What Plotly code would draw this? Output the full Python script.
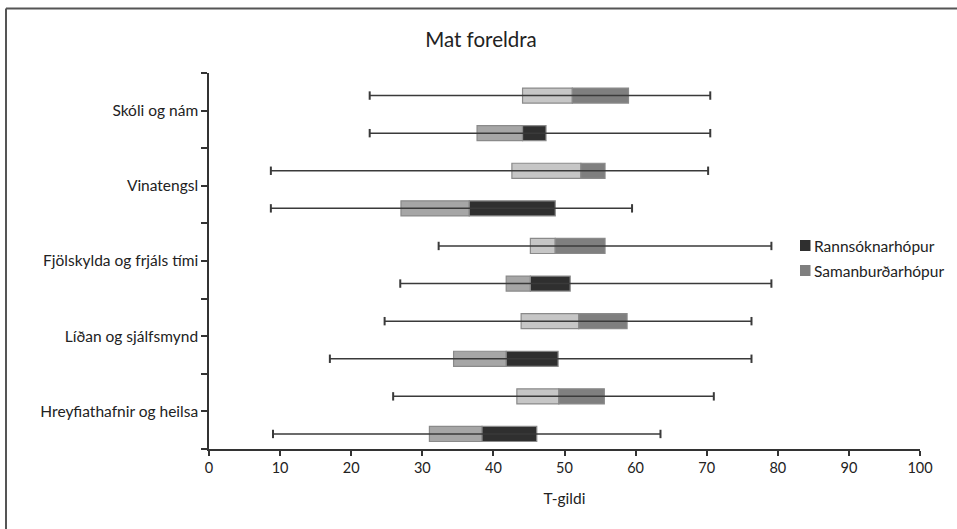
import plotly.graph_objects as go

categories = ["Hreyfiathafnir og heilsa", "Líðan og sjálfsmynd", "Fjölskylda og frjáls tími",
              "Vinatengsl", "Skóli og nám"]

# Samanburðarhópur (upper box of each pair)
samanb_min = [25.9, 24.7, 32.3, 8.7, 22.6]
samanb_q1 = [43.3, 43.9, 45.2, 42.6, 44.1]
samanb_med = [49.2, 52.0, 48.7, 52.3, 51.1]
samanb_q3 = [55.6, 58.8, 55.7, 55.7, 59.0]
samanb_max = [71.0, 76.3, 79.1, 70.2, 70.5]

# Rannsóknarhópur (lower box of each pair)
rann_min = [9.0, 17.0, 26.9, 8.7, 22.6]
rann_q1 = [31.0, 34.4, 41.8, 27.0, 37.7]
rann_med = [38.4, 41.8, 45.2, 36.6, 44.1]
rann_q3 = [46.1, 49.1, 50.8, 48.7, 47.4]
rann_max = [63.5, 76.3, 79.1, 59.5, 70.5]

x_ticks = [0, 10, 20, 30, 40, 50, 60, 70, 80, 90, 100]
legend_names = ["Rannsóknarhópur", "Samanburðarhópur"]

# positions on the category axis
label_pos = [2 * i + 1 for i in range(len(categories))]
upper_pos = [p + 0.4 for p in label_pos]
lower_pos = [p - 0.6 for p in label_pos]

C_LIGHT = "#c6c6c6"
C_MED = "#7f7f7f"
C_MEDLIGHT = "#a6a6a6"
C_DARK = "#2f2f2f"
EDGE = "#8a8a8a"

fig = go.Figure()

# whiskers
for ys, mins, maxs in [(upper_pos, samanb_min, samanb_max), (lower_pos, rann_min, rann_max)]:
    for y, lo, hi in zip(ys, mins, maxs):
        fig.add_trace(go.Scatter(
            x=[lo, hi], y=[y, y], mode="lines+markers",
            line=dict(color="#3a3a3a", width=1.5),
            marker=dict(symbol="line-ns-open", size=6, line=dict(color="#3a3a3a", width=2)),
            showlegend=False, hoverinfo="skip"))

def add_bar(ys, base, top, color, name=None):
    fig.add_trace(go.Bar(
        y=ys, x=[t - b for b, t in zip(base, top)], base=base, orientation="h",
        width=0.4, marker=dict(color=color, line=dict(color=EDGE, width=1.2)),
        name=name, showlegend=False, hoverinfo="skip"))

add_bar(upper_pos, samanb_q1, samanb_med, C_LIGHT)
add_bar(upper_pos, samanb_med, samanb_q3, C_MED, legend_names[1])
add_bar(lower_pos, rann_q1, rann_med, C_MEDLIGHT)
add_bar(lower_pos, rann_med, rann_q3, C_DARK, legend_names[0])

tickvals = list(range(0, 11))
ticktext = [""] * 11
for p, c in zip(label_pos, categories):
    ticktext[p] = c

L, R, T, B = 209, 37, 73, 80
W, H = 957, 529
pw, ph = W - L - R, H - T - B

def px(xp):
    return (xp - L) / pw

def py(yp):
    return (H - B - yp) / ph

shapes = [
    dict(type="line", xref="paper", yref="paper",
         x0=px(6), x1=px(6), y0=py(8.5), y1=py(540), line=dict(color="#555", width=2)),
    dict(type="line", xref="paper", yref="paper",
         x0=px(6), x1=px(970), y0=py(8.5), y1=py(8.5), line=dict(color="#555", width=2)),
]
annotations = []
# manual legend
for i, (name, col) in enumerate(zip(legend_names, [C_DARK, C_MED])):
    yc = 245.5 + 25 * i
    shapes.append(dict(type="rect", xref="paper", yref="paper",
                       x0=px(800), x1=px(810.5), y0=py(yc - 5.5), y1=py(yc + 5.5),
                       fillcolor=col, line=dict(width=0)))
    annotations.append(dict(text=name, xref="paper", yref="paper", x=px(812), y=py(yc),
                            xanchor="left", yanchor="middle", showarrow=False,
                            font=dict(size=15.5, color="#222")))

fig.update_layout(
    width=W, height=H,
    margin=dict(l=L, r=R, t=T, b=B),
    paper_bgcolor="white", plot_bgcolor="white",
    barmode="overlay", showlegend=False,
    font=dict(family="Lato, 'Noto Sans', sans-serif", size=14, color="#222"),
    title=dict(text="Mat foreldra", x=481 / W, xanchor="center",
               y=1 - 40 / H, yanchor="middle", font=dict(size=20.5, color="#222")),
    xaxis=dict(range=[0, 100], tickvals=x_ticks, showgrid=False, zeroline=False,
               showline=True, linecolor="#333", linewidth=1.5,
               ticks="outside", ticklen=5, tickcolor="#333", tickwidth=1.5,
               tickfont=dict(size=14.5),
               title=dict(text="T-gildi", font=dict(size=15.5), standoff=18)),
    yaxis=dict(range=[0, 10], tickvals=tickvals, ticktext=ticktext, showgrid=False,
               zeroline=False, showline=True, linecolor="#333", linewidth=1.5,
               ticks="outside", ticklen=6, tickcolor="#333", tickwidth=1.5,
               tickfont=dict(size=15.5)),
    shapes=shapes,
    annotations=annotations,
)

post = ("document.documentElement.style.margin='0';document.body.style.margin='0';"
        "document.body.style.overflow='hidden';"
        "var gd=document.getElementById('{plot_id}');"
        "Plotly.relayout(gd,{width:%d,height:%d});" % (W, H))

fig.write_html("out.html", config={"responsive": False, "displayModeBar": False},
               post_script=post)
